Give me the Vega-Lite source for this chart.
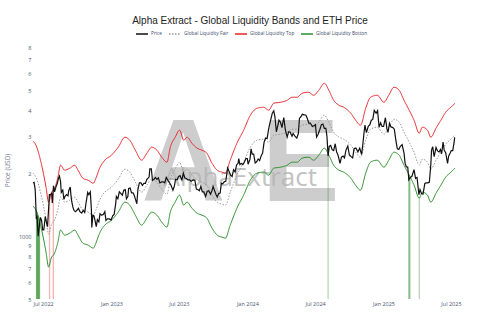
{
"$schema": "https://vega.github.io/schema/vega-lite/v6.json",
"width": 422, "height": 258,
"autosize": {"type": "none"},
"padding": {"left": 33, "top": 41, "right": 45, "bottom": 34},
"background": "white",
"title": {"text": "Alpha Extract - Global Liquidity Bands and ETH Price", "font": "Liberation Sans", "fontSize": 10, "fontWeight": "normal", "color": "#222222", "anchor": "middle", "frame": "group", "dx": 6, "offset": 1},
"config": {"view": {"stroke": null}, "axis": {"grid": false, "domain": false, "ticks": false}},
"datasets": {
"bands": [
{"d":"2022-06-04","top":2848,"fair":2002,"bot":1392},
{"d":"2022-06-12","top":2725,"fair":1916,"bot":1332},
{"d":"2022-06-26","top":2236,"fair":1572,"bot":1093},
{"d":"2022-07-09","top":1716,"fair":1206,"bot":839},
{"d":"2022-07-16","top":1454,"fair":1022,"bot":711},
{"d":"2022-07-23","top":1606,"fair":1129,"bot":785},
{"d":"2022-08-01","top":1697,"fair":1193,"bot":829},
{"d":"2022-08-10","top":1916,"fair":1347,"bot":936},
{"d":"2022-08-17","top":2187,"fair":1537,"bot":1069},
{"d":"2022-08-28","top":2069,"fair":1455,"bot":1011},
{"d":"2022-09-11","top":2115,"fair":1487,"bot":1034},
{"d":"2022-09-24","top":2187,"fair":1537,"bot":1069},
{"d":"2022-10-03","top":2069,"fair":1455,"bot":1011},
{"d":"2022-10-16","top":1894,"fair":1332,"bot":926},
{"d":"2022-10-30","top":1853,"fair":1303,"bot":906},
{"d":"2022-11-13","top":1793,"fair":1260,"bot":876},
{"d":"2022-11-20","top":1894,"fair":1332,"bot":926},
{"d":"2022-11-30","top":2115,"fair":1487,"bot":1034},
{"d":"2022-12-14","top":2311,"fair":1625,"bot":1129},
{"d":"2023-01-01","top":2442,"fair":1717,"bot":1193},
{"d":"2023-01-19","top":2666,"fair":1874,"bot":1303},
{"d":"2023-02-06","top":2977,"fair":2093,"bot":1455},
{"d":"2023-02-19","top":2880,"fair":2025,"bot":1407},
{"d":"2023-03-06","top":2579,"fair":1813,"bot":1260},
{"d":"2023-03-23","top":2311,"fair":1625,"bot":1129},
{"d":"2023-04-06","top":2496,"fair":1755,"bot":1220},
{"d":"2023-04-19","top":2666,"fair":1874,"bot":1303},
{"d":"2023-05-03","top":2579,"fair":1813,"bot":1260},
{"d":"2023-05-16","top":2388,"fair":1679,"bot":1167},
{"d":"2023-05-30","top":2261,"fair":1590,"bot":1105},
{"d":"2023-06-08","top":2666,"fair":1874,"bot":1303},
{"d":"2023-06-21","top":2977,"fair":2093,"bot":1455},
{"d":"2023-07-03","top":3216,"fair":2261,"bot":1572},
{"d":"2023-07-14","top":2880,"fair":2025,"bot":1407},
{"d":"2023-07-23","top":2977,"fair":2093,"bot":1455},
{"d":"2023-08-05","top":2786,"fair":1959,"bot":1362},
{"d":"2023-08-19","top":2637,"fair":1854,"bot":1289},
{"d":"2023-09-01","top":2579,"fair":1813,"bot":1260},
{"d":"2023-09-14","top":2496,"fair":1755,"bot":1220},
{"d":"2023-09-28","top":2236,"fair":1572,"bot":1093},
{"d":"2023-10-12","top":2069,"fair":1455,"bot":1011},
{"d":"2023-10-25","top":2024,"fair":1423,"bot":989},
{"d":"2023-11-03","top":2001,"fair":1407,"bot":978},
{"d":"2023-11-16","top":2311,"fair":1625,"bot":1129},
{"d":"2023-12-04","top":2786,"fair":1959,"bot":1362},
{"d":"2023-12-22","top":3216,"fair":2261,"bot":1572},
{"d":"2024-01-09","top":3793,"fair":2666,"bot":1854},
{"d":"2024-01-27","top":4097,"fair":2880,"bot":2002},
{"d":"2024-02-14","top":4143,"fair":2913,"bot":2025},
{"d":"2024-02-27","top":4008,"fair":2818,"bot":1959},
{"d":"2024-03-12","top":4329,"fair":3043,"bot":2116},
{"d":"2024-03-30","top":4377,"fair":3077,"bot":2139},
{"d":"2024-04-17","top":4474,"fair":3145,"bot":2186},
{"d":"2024-04-30","top":4625,"fair":3251,"bot":2260},
{"d":"2024-05-14","top":4625,"fair":3251,"bot":2260},
{"d":"2024-05-27","top":4833,"fair":3398,"bot":2362},
{"d":"2024-06-14","top":4887,"fair":3436,"bot":2388},
{"d":"2024-06-27","top":4727,"fair":3323,"bot":2310},
{"d":"2024-07-11","top":4995,"fair":3511,"bot":2441},
{"d":"2024-07-26","top":5396,"fair":3793,"bot":2637},
{"d":"2024-08-07","top":4995,"fair":3511,"bot":2441},
{"d":"2024-08-20","top":4474,"fair":3145,"bot":2186},
{"d":"2024-09-03","top":4236,"fair":2978,"bot":2070},
{"d":"2024-09-16","top":4143,"fair":2913,"bot":2025},
{"d":"2024-10-05","top":3878,"fair":2726,"bot":1895},
{"d":"2024-10-18","top":3589,"fair":2523,"bot":1754},
{"d":"2024-10-31","top":3397,"fair":2388,"bot":1660},
{"d":"2024-11-14","top":4097,"fair":2880,"bot":2002},
{"d":"2024-11-27","top":4625,"fair":3251,"bot":2260},
{"d":"2024-12-15","top":4727,"fair":3323,"bot":2310},
{"d":"2025-01-02","top":4377,"fair":3077,"bot":2139},
{"d":"2025-01-15","top":4727,"fair":3323,"bot":2310},
{"d":"2025-01-29","top":5164,"fair":3630,"bot":2524},
{"d":"2025-02-12","top":4995,"fair":3511,"bot":2441},
{"d":"2025-02-25","top":4474,"fair":3145,"bot":2186},
{"d":"2025-03-11","top":4008,"fair":2818,"bot":1959},
{"d":"2025-03-24","top":3589,"fair":2523,"bot":1754},
{"d":"2025-04-07","top":3111,"fair":2187,"bot":1520},
{"d":"2025-04-15","top":3323,"fair":2336,"bot":1624},
{"d":"2025-04-29","top":3216,"fair":2261,"bot":1572},
{"d":"2025-05-08","top":2977,"fair":2093,"bot":1455},
{"d":"2025-05-22","top":3287,"fair":2311,"bot":1606},
{"d":"2025-06-04","top":3589,"fair":2523,"bot":1754},
{"d":"2025-06-17","top":3921,"fair":2756,"bot":1916},
{"d":"2025-07-01","top":4143,"fair":2913,"bot":2025},
{"d":"2025-07-12","top":4329,"fair":3043,"bot":2116}
],
"price": [
{"d":"2022-06-04","price":1800},{"d":"2022-06-07","price":1810},{"d":"2022-06-10","price":1660},{"d":"2022-06-13","price":1210},{"d":"2022-06-15","price":1230},{"d":"2022-06-18","price":1000},{"d":"2022-06-21","price":1120},{"d":"2022-06-24","price":1230},{"d":"2022-06-27","price":1190},{"d":"2022-06-30","price":1070},{"d":"2022-07-03","price":1070},{"d":"2022-07-07","price":1240},{"d":"2022-07-10","price":1170},{"d":"2022-07-13","price":1110},{"d":"2022-07-16","price":1360},{"d":"2022-07-18","price":1580},{"d":"2022-07-21","price":1580},{"d":"2022-07-24","price":1600},{"d":"2022-07-26","price":1440},{"d":"2022-07-29","price":1740},{"d":"2022-08-01","price":1630},{"d":"2022-08-05","price":1730},{"d":"2022-08-08","price":1780},{"d":"2022-08-11","price":1880},{"d":"2022-08-14","price":1940},{"d":"2022-08-17","price":1830},{"d":"2022-08-19","price":1620},{"d":"2022-08-23","price":1660},{"d":"2022-08-26","price":1500},{"d":"2022-08-29","price":1550},{"d":"2022-09-02","price":1580},{"d":"2022-09-06","price":1560},{"d":"2022-09-08","price":1650},{"d":"2022-09-12","price":1720},{"d":"2022-09-14","price":1570},{"d":"2022-09-16","price":1470},{"d":"2022-09-19","price":1380},{"d":"2022-09-22","price":1330},{"d":"2022-09-26","price":1310},{"d":"2022-09-30","price":1330},{"d":"2022-10-04","price":1360},{"d":"2022-10-08","price":1310},{"d":"2022-10-13","price":1290},{"d":"2022-10-17","price":1330},{"d":"2022-10-21","price":1300},{"d":"2022-10-25","price":1460},{"d":"2022-10-29","price":1620},{"d":"2022-11-01","price":1580},{"d":"2022-11-05","price":1630},{"d":"2022-11-08","price":1330},{"d":"2022-11-09","price":1100},{"d":"2022-11-12","price":1260},{"d":"2022-11-15","price":1250},{"d":"2022-11-21","price":1110},{"d":"2022-11-24","price":1200},{"d":"2022-11-28","price":1170},{"d":"2022-12-01","price":1280},{"d":"2022-12-05","price":1260},{"d":"2022-12-10","price":1270},{"d":"2022-12-14","price":1310},{"d":"2022-12-17","price":1190},{"d":"2022-12-21","price":1210},{"d":"2022-12-26","price":1210},{"d":"2022-12-31","price":1195},{"d":"2023-01-04","price":1250},{"d":"2023-01-08","price":1270},{"d":"2023-01-12","price":1420},{"d":"2023-01-14","price":1550},{"d":"2023-01-18","price":1510},{"d":"2023-01-22","price":1630},{"d":"2023-01-26","price":1600},{"d":"2023-01-30","price":1570},{"d":"2023-02-03","price":1660},{"d":"2023-02-07","price":1670},{"d":"2023-02-10","price":1510},{"d":"2023-02-14","price":1550},{"d":"2023-02-16","price":1690},{"d":"2023-02-20","price":1700},{"d":"2023-02-24","price":1610},{"d":"2023-02-28","price":1610},{"d":"2023-03-03","price":1570},{"d":"2023-03-10","price":1430},{"d":"2023-03-13","price":1680},{"d":"2023-03-17","price":1800},{"d":"2023-03-21","price":1800},{"d":"2023-03-25","price":1750},{"d":"2023-03-29","price":1790},{"d":"2023-04-02","price":1790},{"d":"2023-04-06","price":1870},{"d":"2023-04-12","price":1920},{"d":"2023-04-14","price":2100},{"d":"2023-04-18","price":2100},{"d":"2023-04-21","price":1850},{"d":"2023-04-25","price":1870},{"d":"2023-04-29","price":1910},{"d":"2023-05-03","price":1870},{"d":"2023-05-07","price":1900},{"d":"2023-05-11","price":1800},{"d":"2023-05-16","price":1820},{"d":"2023-05-20","price":1820},{"d":"2023-05-24","price":1800},{"d":"2023-05-28","price":1910},{"d":"2023-06-01","price":1860},{"d":"2023-06-05","price":1810},{"d":"2023-06-10","price":1750},{"d":"2023-06-15","price":1660},{"d":"2023-06-19","price":1740},{"d":"2023-06-22","price":1870},{"d":"2023-06-26","price":1860},{"d":"2023-06-30","price":1930},{"d":"2023-07-04","price":1950},{"d":"2023-07-09","price":1860},{"d":"2023-07-13","price":2000},{"d":"2023-07-17","price":1900},{"d":"2023-07-21","price":1890},{"d":"2023-07-25","price":1860},{"d":"2023-07-30","price":1860},{"d":"2023-08-03","price":1830},{"d":"2023-08-08","price":1860},{"d":"2023-08-13","price":1850},{"d":"2023-08-17","price":1680},{"d":"2023-08-21","price":1670},{"d":"2023-08-25","price":1650},{"d":"2023-08-29","price":1730},{"d":"2023-09-02","price":1630},{"d":"2023-09-06","price":1630},{"d":"2023-09-11","price":1550},{"d":"2023-09-15","price":1640},{"d":"2023-09-19","price":1650},{"d":"2023-09-24","price":1590},{"d":"2023-09-28","price":1650},{"d":"2023-10-01","price":1730},{"d":"2023-10-05","price":1650},{"d":"2023-10-09","price":1580},{"d":"2023-10-12","price":1540},{"d":"2023-10-16","price":1600},{"d":"2023-10-20","price":1610},{"d":"2023-10-23","price":1790},{"d":"2023-10-27","price":1780},{"d":"2023-10-31","price":1820},{"d":"2023-11-04","price":1830},{"d":"2023-11-09","price":2120},{"d":"2023-11-13","price":2040},{"d":"2023-11-17","price":1960},{"d":"2023-11-21","price":1930},{"d":"2023-11-25","price":2080},{"d":"2023-11-29","price":2030},{"d":"2023-12-03","price":2190},{"d":"2023-12-07","price":2230},{"d":"2023-12-09","price":2350},{"d":"2023-12-12","price":2200},{"d":"2023-12-16","price":2230},{"d":"2023-12-20","price":2200},{"d":"2023-12-24","price":2260},{"d":"2023-12-28","price":2350},{"d":"2024-01-01","price":2350},{"d":"2024-01-03","price":2210},{"d":"2024-01-08","price":2330},{"d":"2024-01-11","price":2620},{"d":"2024-01-14","price":2470},{"d":"2024-01-18","price":2470},{"d":"2024-01-22","price":2240},{"d":"2024-01-26","price":2270},{"d":"2024-01-30","price":2340},{"d":"2024-02-03","price":2300},{"d":"2024-02-07","price":2420},{"d":"2024-02-11","price":2500},{"d":"2024-02-15","price":2820},{"d":"2024-02-19","price":2950},{"d":"2024-02-23","price":2930},{"d":"2024-02-27","price":3240},{"d":"2024-02-29","price":3380},{"d":"2024-03-04","price":3620},{"d":"2024-03-08","price":3880},{"d":"2024-03-12","price":3980},{"d":"2024-03-15","price":3740},{"d":"2024-03-19","price":3160},{"d":"2024-03-22","price":3330},{"d":"2024-03-26","price":3590},{"d":"2024-03-30","price":3510},{"d":"2024-04-03","price":3310},{"d":"2024-04-08","price":3700},{"d":"2024-04-12","price":3240},{"d":"2024-04-17","price":2980},{"d":"2024-04-21","price":3160},{"d":"2024-04-25","price":3150},{"d":"2024-04-30","price":3010},{"d":"2024-05-03","price":3100},{"d":"2024-05-08","price":3010},{"d":"2024-05-13","price":2950},{"d":"2024-05-17","price":3100},{"d":"2024-05-20","price":3660},{"d":"2024-05-24","price":3730},{"d":"2024-05-28","price":3840},{"d":"2024-06-01","price":3810},{"d":"2024-06-06","price":3800},{"d":"2024-06-10","price":3670},{"d":"2024-06-14","price":3480},{"d":"2024-06-18","price":3480},{"d":"2024-06-24","price":3350},{"d":"2024-06-28","price":3380},{"d":"2024-07-02","price":3420},{"d":"2024-07-05","price":2980},{"d":"2024-07-09","price":3070},{"d":"2024-07-14","price":3250},{"d":"2024-07-18","price":3420},{"d":"2024-07-22","price":3440},{"d":"2024-07-26","price":3280},{"d":"2024-07-30","price":3280},{"d":"2024-08-02","price":2990},{"d":"2024-08-05","price":2420},{"d":"2024-08-08","price":2690},{"d":"2024-08-12","price":2720},{"d":"2024-08-16","price":2590},{"d":"2024-08-20","price":2570},{"d":"2024-08-24","price":2770},{"d":"2024-08-28","price":2530},{"d":"2024-09-01","price":2430},{"d":"2024-09-06","price":2230},{"d":"2024-09-10","price":2390},{"d":"2024-09-14","price":2420},{"d":"2024-09-18","price":2370},{"d":"2024-09-22","price":2580},{"d":"2024-09-27","price":2700},{"d":"2024-10-01","price":2450},{"d":"2024-10-05","price":2410},{"d":"2024-10-10","price":2370},{"d":"2024-10-14","price":2630},{"d":"2024-10-19","price":2640},{"d":"2024-10-24","price":2530},{"d":"2024-10-29","price":2640},{"d":"2024-11-03","price":2460},{"d":"2024-11-06","price":2720},{"d":"2024-11-10","price":3180},{"d":"2024-11-12","price":3400},{"d":"2024-11-16","price":3130},{"d":"2024-11-21","price":3360},{"d":"2024-11-25","price":3410},{"d":"2024-11-29","price":3590},{"d":"2024-12-03","price":3620},{"d":"2024-12-07","price":4000},{"d":"2024-12-12","price":3880},{"d":"2024-12-16","price":3990},{"d":"2024-12-20","price":3320},{"d":"2024-12-24","price":3490},{"d":"2024-12-28","price":3350},{"d":"2025-01-01","price":3350},{"d":"2025-01-06","price":3690},{"d":"2025-01-10","price":3270},{"d":"2025-01-13","price":3140},{"d":"2025-01-17","price":3470},{"d":"2025-01-21","price":3330},{"d":"2025-01-26","price":3310},{"d":"2025-01-30","price":3250},{"d":"2025-02-03","price":2880},{"d":"2025-02-07","price":2620},{"d":"2025-02-11","price":2600},{"d":"2025-02-15","price":2690},{"d":"2025-02-20","price":2740},{"d":"2025-02-25","price":2500},{"d":"2025-02-28","price":2230},{"d":"2025-03-03","price":2150},{"d":"2025-03-07","price":2140},{"d":"2025-03-10","price":1860},{"d":"2025-03-14","price":1910},{"d":"2025-03-18","price":1930},{"d":"2025-03-24","price":2080},{"d":"2025-03-28","price":1890},{"d":"2025-04-01","price":1910},{"d":"2025-04-06","price":1580},{"d":"2025-04-09","price":1670},{"d":"2025-04-13","price":1600},{"d":"2025-04-17","price":1590},{"d":"2025-04-22","price":1790},{"d":"2025-04-26","price":1800},{"d":"2025-04-30","price":1800},{"d":"2025-05-04","price":1810},{"d":"2025-05-08","price":2200},{"d":"2025-05-10","price":2580},{"d":"2025-05-13","price":2680},{"d":"2025-05-17","price":2400},{"d":"2025-05-22","price":2660},{"d":"2025-05-26","price":2560},{"d":"2025-05-30","price":2530},{"d":"2025-06-03","price":2600},{"d":"2025-06-06","price":2480},{"d":"2025-06-10","price":2820},{"d":"2025-06-13","price":2580},{"d":"2025-06-17","price":2510},{"d":"2025-06-22","price":2230},{"d":"2025-06-25","price":2420},{"d":"2025-06-29","price":2500},{"d":"2025-07-02","price":2570},{"d":"2025-07-06","price":2570},{"d":"2025-07-09","price":2770},{"d":"2025-07-11","price":2950},{"d":"2025-07-12","price":2940}
],
"signals": [
{"d":"2022-06-13","hi":1330,"k":"buy"},{"d":"2022-06-14","hi":1315,"k":"buy"},{"d":"2022-06-15","hi":1300,"k":"buy"},{"d":"2022-06-16","hi":1285,"k":"buy"},{"d":"2022-06-17","hi":1270,"k":"buy"},{"d":"2022-06-18","hi":1255,"k":"buy"},{"d":"2022-06-19","hi":1240,"k":"buy"},{"d":"2022-06-20","hi":1225,"k":"buy"},{"d":"2022-06-21","hi":1210,"k":"buy"},{"d":"2022-06-22","hi":1195,"k":"buy"},
{"d":"2022-07-18","hi":1560,"k":"sell"},{"d":"2022-07-19","hi":1580,"k":"sell"},{"d":"2022-07-28","hi":1660,"k":"sell"},{"d":"2022-07-29","hi":1670,"k":"sell"},
{"d":"2024-08-05","hi":2470,"k":"buy"},
{"d":"2025-03-10","hi":1980,"k":"buy"},{"d":"2025-03-11","hi":1960,"k":"buy"},{"d":"2025-03-13","hi":1940,"k":"buy"},
{"d":"2025-04-07","hi":1530,"k":"buy"}
],
"logo": [
{"d":"2023-07-13","v":2163,"t":"A"},
{"d":"2024-05-23","v":2163,"t":"E"}
]
},
"encoding": {
"x": {"field": "d", "type": "temporal", "title": null,
 "scale": {"domain": [{"year": 2022, "month": 6, "date": 4}, {"year": 2025, "month": 7, "date": 12}]},
 "axis": {"format": "%b %Y", "tickCount": {"interval": "month", "step": 6}, "labelFont": "Open Sans", "labelFontSize": 5.5, "labelColor": "#4a5670", "labelPadding": 2, "labelFlush": false}}
},
"layer": [
{"data": {"name": "logo"},
 "mark": {"type": "text", "font": "Liberation Sans", "fontWeight": "bold", "fontSize": 116, "color": "#cdcdcd", "baseline": "middle", "align": "center"},
 "encoding": {"y": {"field": "v", "type": "quantitative", "scale": {"type": "log", "domain": [500, 8600], "nice": false}}, "text": {"field": "t"}}},
{"data": {"values": [{"d": "2023-12-13", "v": 1895, "t": "AlphaExtract"}]},
 "mark": {"type": "text", "font": "Open Sans", "fontSize": 26, "color": "#b4b4b4", "opacity": 0.8, "baseline": "middle", "align": "center"},
 "encoding": {"y": {"field": "v", "type": "quantitative"}, "text": {"field": "t"}}},
{"data": {"name": "signals"}, "transform": [{"filter": {"field": "k", "equal": "buy"}}],
 "mark": {"type": "rule", "color": "#2e8b2e", "strokeWidth": 1, "opacity": 0.45},
 "encoding": {"y": {"field": "hi", "type": "quantitative"}, "y2": {"datum": 500}}},
{"data": {"name": "signals"}, "transform": [{"filter": {"field": "k", "equal": "sell"}}],
 "mark": {"type": "rule", "color": "#e88080", "strokeWidth": 1, "opacity": 0.45},
 "encoding": {"y": {"field": "hi", "type": "quantitative"}, "y2": {"datum": 500}}},
{"data": {"name": "bands"}, "transform": [{"fold": ["top", "fair", "bot"], "as": ["s", "v"]}],
 "mark": {"type": "line", "strokeWidth": 1, "interpolate": "monotone"},
 "encoding": {
  "y": {"field": "v", "type": "quantitative", "title": "Price (USD)"},
  "color": {"field": "s", "type": "nominal"},
  "strokeDash": {"field": "s", "type": "nominal"}
 }},
{"data": {"name": "price"}, "transform": [{"fold": ["price"], "as": ["s", "v"]}],
 "mark": {"type": "line", "strokeWidth": 1.2},
 "encoding": {
  "y": {"field": "v", "type": "quantitative", "title": "Price (USD)",
   "axis": {"values": [500, 600, 700, 800, 900, 1000, 2000, 3000, 4000, 5000, 6000, 7000, 8000],
    "labelExpr": "datum.value == 1000 ? '1000' : substring('' + datum.value, 0, 1)",
    "labelFont": "Open Sans", "labelFontSize": 5.5, "labelColor": "#4a5670", "labelPadding": 2,
    "titleFont": "Open Sans", "titleFontSize": 6.5, "titleFontWeight": "normal", "titleColor": "#7a8090", "titlePadding": 8}},
  "color": {"field": "s", "type": "nominal",
   "scale": {"domain": ["price", "fair", "top", "bot"], "range": ["#111111", "#9a9a9a", "#e8262b", "#2a8f2a"]},
   "legend": {"orient": "none", "legendX": 102, "legendY": -14, "direction": "horizontal", "title": null,
    "symbolType": "stroke", "symbolSize": 144, "symbolStrokeWidth": 1.5, "labelFont": "Open Sans", "labelFontSize": 4.8, "labelColor": "#3b4b6b", "columnPadding": 3, "labelOffset": 2,
    "labelExpr": "datum.value == 'price' ? 'Price' : datum.value == 'fair' ? 'Global Liquidity Fair' : datum.value == 'top' ? 'Global Liquidity Top' : 'Global Liquidity Botton'"}},
  "strokeDash": {"field": "s", "type": "nominal",
   "scale": {"domain": ["price", "fair", "top", "bot"], "range": [[1, 0], [1.5, 1.5], [1, 0], [1, 0]]}}
 }}
]
}
